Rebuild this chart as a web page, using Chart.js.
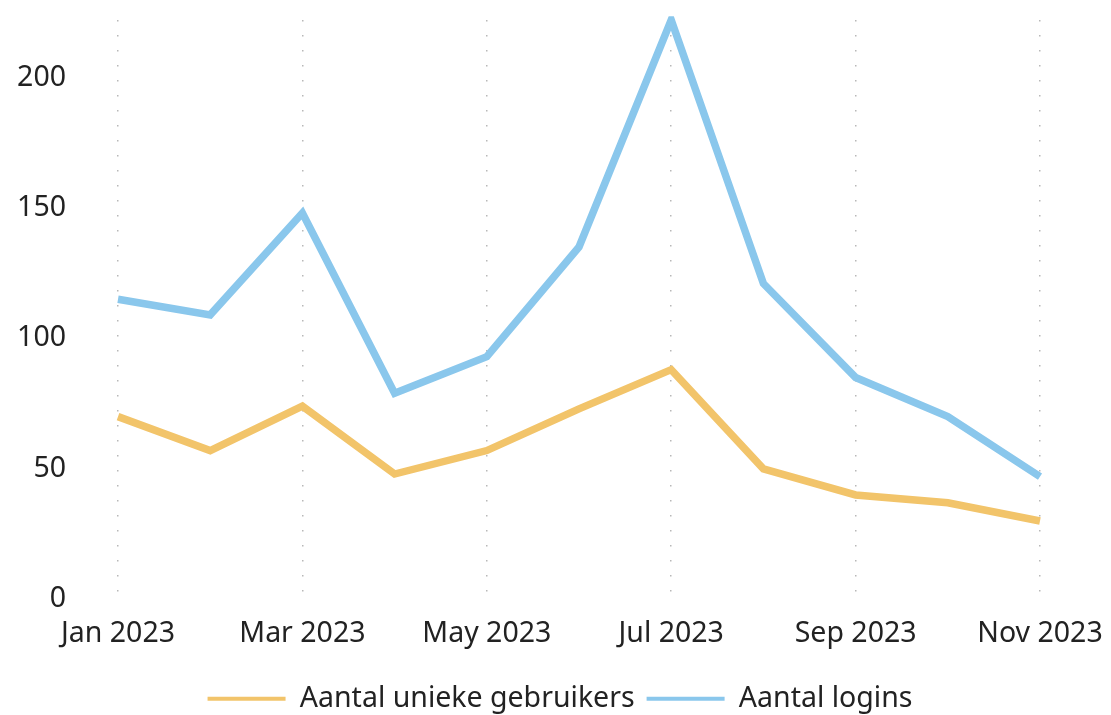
<!DOCTYPE html>
<html>
<head>
<meta charset="utf-8">
<script src="https://cdn.jsdelivr.net/npm/chart.js@4/dist/chart.umd.min.js"></script>
<style>
    html, body { margin: 0; padding: 0; background: #fff; }
    #wrap { width: 1111px; height: 715px; position: relative; }
</style>
</head>
<body>
<div id="wrap"><canvas id="chart"></canvas></div>
<script>
const months = ['Jan 2023', 'Feb 2023', 'Mar 2023', 'Apr 2023', 'May 2023', 'Jun 2023',
    'Jul 2023', 'Aug 2023', 'Sep 2023', 'Oct 2023', 'Nov 2023'];
const uniqueUsers = [70, 57, 74, 48, 57, 73, 88, 50, 40, 37, 30];
const logins = [115, 109, 148, 79, 93, 135, 222, 121, 85, 70, 47];
const yTicks = [0, 50, 100, 150, 200];

(() => {
    'use strict';

    const textColor = '#222222';
    const fontFamily = '"Noto Sans", "Open Sans", sans-serif';
    const fontSize = 28.5;
    const orange = '#F2C46A';
    const blue = '#8AC7EC';

    const ctx = document.getElementById('chart').getContext('2d');
    new Chart(ctx, {
        type: 'line',
        data: {
            labels: months,
            datasets: [
                { label: 'Aantal unieke gebruikers', data: uniqueUsers, borderColor: orange, backgroundColor: orange, borderWidth: 7.5, pointRadius: 0, tension: 0, borderJoinStyle: 'miter' },
                { label: 'Aantal logins', data: logins, borderColor: blue, backgroundColor: blue, borderWidth: 7.5, pointRadius: 0, tension: 0, borderJoinStyle: 'miter' }
            ]
        },
        options: {
            responsive: true,
            maintainAspectRatio: false,
            animation: false,
            layout: { padding: { top: 20, left: 14, right: 5, bottom: -8 } },
            plugins: {
                tooltip: { enabled: false },
                legend: {
                    position: 'bottom',
                    labels: {
                        color: textColor,
                        font: { family: fontFamily, size: fontSize },
                        boxWidth: 78,
                        boxHeight: 4,
                        padding: 12,
                        generateLabels(chart) {
                            return Chart.defaults.plugins.legend.labels.generateLabels(chart).map(item => {
                                item.lineWidth = 0;
                                return item;
                            });
                        }
                    }
                }
            },
            scales: {
                x: {
                    grid: {
                        drawTicks: false,
                        lineWidth: 1.5,
                        color: c => (c.index % 2 === 0 ? '#b8b8b8' : 'rgba(0,0,0,0)')
                    },
                    border: { display: false, dash: [1.5, 13.5] },
                    afterFit: axis => {
                        axis.height += 5;
                        axis.paddingRight = 71;
                    },
                    ticks: {
                        autoSkip: false,
                        maxRotation: 0,
                        padding: 17,
                        color: textColor,
                        font: { family: fontFamily, size: fontSize },
                        callback: function (value, index) {
                            return index % 2 === 0 ? this.getLabelForValue(value) : '';
                        }
                    }
                },
                y: {
                    min: 0,
                    bounds: 'data',
                    grid: { display: false, drawTicks: false },
                    border: { display: false },
                    afterBuildTicks: axis => {
                        axis.ticks = yTicks.map(v => ({ value: v }));
                    },
                    afterFit: axis => {
                        axis.width = 104;
                        axis.paddingTop = 0;
                        axis.paddingBottom = 0;
                    },
                    ticks: {
                        padding: 52,
                        color: textColor,
                        font: { family: fontFamily, size: fontSize }
                    }
                }
            }
        }
    });
})();
</script>
</body>
</html>
